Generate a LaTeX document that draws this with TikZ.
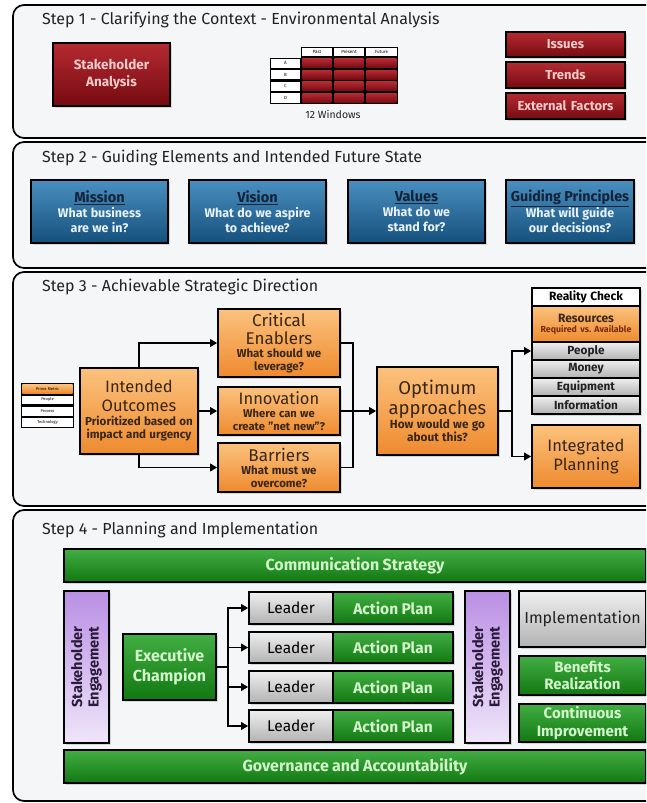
\documentclass[tikz,border=0pt]{standalone}
\usepackage{fontspec}
\setmainfont{Fira Sans}
\usetikzlibrary{shadows,arrows.meta}
\definecolor{panelfill}{HTML}{F5F6F7}
\definecolor{redA}{HTML}{B52A31}
\definecolor{redB}{HTML}{760B11}
\definecolor{redtxt}{HTML}{F4CACA}
\definecolor{blueA}{HTML}{4A8FBF}
\definecolor{blueB}{HTML}{15507C}
\definecolor{bluetitle}{HTML}{13233A}
\definecolor{bluetxt}{HTML}{EAF2FA}
\definecolor{orA}{HTML}{FBC27E}
\definecolor{orB}{HTML}{EE8A2E}
\definecolor{ortxt}{HTML}{3A2614}
\definecolor{resred}{HTML}{7A2A0C}
\definecolor{grA}{HTML}{42AE42}
\definecolor{grB}{HTML}{127812}
\definecolor{grtxt}{HTML}{D2F5CB}
\definecolor{gyA}{HTML}{EFEFEF}
\definecolor{gyB}{HTML}{B2B2B2}
\definecolor{puA}{HTML}{BA8FE4}
\definecolor{puB}{HTML}{EFE5F9}
\definecolor{putxt}{HTML}{2B1B3B}
\definecolor{titletxt}{HTML}{222222}
\newcommand\fs[2]{\fontsize{#1}{#2}\selectfont}
\newcommand\bx[7]{%
  \pgfmathsetmacro\bxw{(#5)-(#3)}%
  \pgfmathsetmacro\bxh{(#6)-(#4)}%
  \pgfmathsetmacro\bxt{(#5)-(#3)-2}%
  \node[#1, align=center, inner sep=1pt, minimum width=\bxw pt, minimum height=\bxh pt, text width=\bxt pt]
    (#2) at ({((#3)+(#5))/2},{((#4)+(#6))/2}) {#7\par};}
\tikzset{
  panel/.style={draw=black, line width=1.7pt, rounded corners=11pt, fill=panelfill},
  steptitle/.style={anchor=west, inner sep=0pt, text=titletxt, font={\fs{16}{18}}},
  box/.style={draw=black, line width=1.6pt, drop shadow={opacity=0.28, shadow xshift=2pt, shadow yshift=-2pt}},
  redbox/.style={box, top color=redA, bottom color=redB, text=redtxt, font={\fs{13}{16}\bfseries}},
  bluebox/.style={box, top color=blueA, bottom color=blueB},
  orbox/.style={box, top color=orA, bottom color=orB, text=ortxt},
  grbox/.style={box, top color=grA, bottom color=grB, text=grtxt},
  gybox/.style={box, top color=gyA, bottom color=gyB, text=black},
  wbox/.style={box, fill=white, text=black},
  pubox/.style={box, top color=puA, bottom color=puB},
  cellw/.style={fill=white, text=black, font={\fs{4.5}{5}}},
  cellr/.style={top color=redA, bottom color=redB},
  cello/.style={top color=orA, bottom color=orB, text=black, font={\fs{4}{5}}},
  cellp/.style={fill=white, text=black, font={\fs{4}{5}}},
  line/.style={draw=black, line width=1.8pt},
  conn/.style={line, -{Triangle[length=7pt,width=7.5pt]}},
  setext/.style={rotate=90, align=center, text=putxt, font={\fs{14.5}{16.5}\bfseries}},
}
\begin{document}
\begin{tikzpicture}[x=1pt,y=-1pt]
\useasboundingbox (0,0) rectangle (646,803);
\clip (0,0) rectangle (646,803);
\fill[white] (0,0) rectangle (646,803);

% ---------------- panels
\draw[panel] (13,5) rectangle (700,138);
\draw[panel] (13,142) rectangle (700,268);
\draw[panel] (13,272) rectangle (700,506);
\draw[panel] (13,510) rectangle (700,801);

\node[steptitle] (t1) at (42,20) {Step 1 - Clarifying the Context - Environmental Analysis};
\node[steptitle] (t2) at (42,158) {Step 2 - Guiding Elements and Intended Future State};
\node[steptitle] (t3) at (42,287) {Step 3 - Achievable Strategic Direction};
\node[steptitle] (t4) at (42,530) {Step 4 - Planning and Implementation};

% ---------------- step 1
\bx{redbox}{sa}{53}{43}{170}{106}{\fs{13.5}{17}Stakeholder\\Analysis}
\bx{redbox}{iss}{506}{32}{625}{57}{Issues}
\bx{redbox}{tre}{506}{62}{625}{88}{Trends}
\bx{redbox}{ext}{506}{93}{625}{119}{External Factors}

% 12 windows table
\fill[black] (301,47) rectangle (398,58);
\fill[black] (270,57.5) rectangle (398,104);
\bx{cellw}{hpast}{302.3}{48.3}{331.7}{56.2}{Past}
\bx{cellw}{hpres}{334.3}{48.3}{363.7}{56.2}{Present}
\bx{cellw}{hfut}{366.3}{48.3}{396.7}{56.2}{Future}
\foreach \r/\ya/\yb/\lab in {1/57.5/69/A, 2/69/80.5/B, 3/80.5/92/C, 4/92/104/D} {
  \bx{cellw}{lab\r}{271.3}{\ya+1.3}{299.7}{\yb-1.3}{\lab}
  \bx{cellr}{ca\r}{302.3}{\ya+1.3}{331.7}{\yb-1.3}{}
  \bx{cellr}{cb\r}{334.3}{\ya+1.3}{363.7}{\yb-1.3}{}
  \bx{cellr}{cc\r}{366.3}{\ya+1.3}{396.7}{\yb-1.3}{}
}
\node[font={\fs{10.5}{12}}, text=titletxt] (win) at (333,114) {12 Windows};

% ---------------- step 2
\bx{bluebox}{mis}{31}{180}{168}{243}{{\fs{14.5}{17}\bfseries\color{bluetitle}\underline{Mission}\par}{\fs{12.5}{15}\bfseries\color{bluetxt}What business\\are we in?\par}}
\bx{bluebox}{vis}{189}{180}{326}{243}{{\fs{14.5}{17}\bfseries\color{bluetitle}\underline{Vision}\par}{\fs{12.5}{15}\bfseries\color{bluetxt}What do we aspire\\to achieve?\par}}
\bx{bluebox}{val}{348}{180}{485}{243}{{\fs{14.5}{17}\bfseries\color{bluetitle}\underline{Values}\par}{\fs{12.5}{15}\bfseries\color{bluetxt}What do we\\stand for?\par}}
\bx{bluebox}{gp}{506}{180}{634}{243}{{\fs{14.3}{17}\bfseries\color{bluetitle}\underline{Guiding Principles}\par}{\fs{12.5}{15}\bfseries\color{bluetxt}What will guide\\our decisions?\par}}

% ---------------- step 3
\fill[black] (21,383) rectangle (74,428);
\bx{cello}{pm1}{22.3}{384.3}{72.7}{393}{Prime Metric}
\bx{cellp}{pm2}{22.3}{395.5}{72.7}{404.3}{People}
\bx{cellp}{pm3}{22.3}{406.8}{72.7}{415.5}{Process}
\bx{cellp}{pm4}{22.3}{418}{72.7}{426.7}{Technology}

\bx{orbox}{io}{80}{368}{198}{454}{{\fs{16.5}{19}Intended\\Outcomes\par}{\fs{11.6}{13.5}\bfseries Prioritized based on\\impact and urgency\par}}
\bx{orbox}{ce}{218}{309}{340}{377}{{\fs{17}{18}Critical\\Enablers\par}{\fs{11.5}{13}\bfseries What should we\\leverage?\par}}
\bx{orbox}{inn}{218}{387}{340}{435}{{\fs{16.5}{18}Innovation\par}{\fs{11.2}{13}\bfseries Where can we\\create "net new"?\par}}
\bx{orbox}{bar}{218}{443}{340}{492}{{\fs{17}{18}Barriers\par}{\fs{11.5}{13}\bfseries What must we\\overcome?\par}}
\bx{orbox}{oa}{377}{367}{498}{455}{{\fs{18.5}{20.5}Optimum\\approaches\par}{\fs{11.8}{13.5}\bfseries How would we go\\about this?\par}}

\bx{wbox}{rc}{532}{288}{640}{306}{\fs{12}{13}\bfseries Reality Check}
\bx{orbox}{res}{532}{306}{640}{342}{{\fs{12}{14}\bfseries Resources\par}{\fs{8.8}{10}\bfseries\color{resred}Required vs.\ Available\par}}
\bx{gybox}{peo}{532}{342}{640}{360}{\fs{11.8}{13}\bfseries\color{titletxt}People}
\bx{gybox}{mon}{532}{360}{640}{378}{\fs{11.8}{13}\bfseries\color{titletxt}Money}
\bx{gybox}{equ}{532}{378}{640}{396}{\fs{11.8}{13}\bfseries\color{titletxt}Equipment}
\bx{gybox}{inf}{532}{396}{640}{414}{\fs{11.8}{13}\bfseries\color{titletxt}Information}
\bx{orbox}{ip}{532}{425}{640}{488}{\fs{16.5}{19.5}Integrated\\Planning}

\coordinate (j1) at (353,411);
\draw[conn] (io.north) |- (ce.west);
\draw[conn] (io.east) -- (inn.west);
\draw[conn] (io.south) |- (bar.west);
\draw[line] (ce.east) -| (j1);
\draw[line] (bar.east) -| (j1);
\draw[conn] (inn.east) -- (oa.west);
\coordinate (j2) at (512,411);
\draw[line] (oa.east) -- (j2);
\draw[conn] (j2) |- (peo.west);
\draw[conn] (j2) |- (ip.west);

% ---------------- step 4
\bx{grbox}{cs}{64}{549}{646}{582}{\fs{16}{18}\bfseries Communication Strategy}
\bx{grbox}{ga}{64}{750}{646}{783}{\fs{16}{18}\bfseries Governance and Accountability}

\bx{pubox}{se1}{64}{591}{109}{743}{}
\node[setext] (se1t) at (se1.center) {Stakeholder\\Engagement};
\bx{pubox}{se2}{465}{591}{510}{743}{}
\node[setext] (se2t) at (se2.center) {Stakeholder\\Engagement};

\bx{grbox}{ec}{123}{634}{216}{700}{\fs{16}{19.5}\bfseries Executive\\Champion}

\foreach \i/\ya/\yb in {1/592/624, 2/632/663, 3/671/703, 4/710/742} {
  \bx{gybox}{l\i}{249}{\ya}{333}{\yb}{\fs{15.5}{17}Leader}
  \bx{grbox}{ap\i}{333}{\ya}{453}{\yb}{\fs{15.5}{17}\bfseries Action Plan}
}
\coordinate (j3) at (228,667);
\draw[line] (ec.east) -- (j3);
\foreach \i in {1,2,3,4} {
  \draw[conn] (j3) |- (l\i.west);
}

\bx{gybox}{imp}{519}{591}{646}{647}{\fs{16}{18}\color{titletxt}Implementation}
\bx{grbox}{ben}{519}{656}{646}{695}{\fs{15}{17.5}\bfseries Benefits\\Realization}
\bx{grbox}{ci}{519}{704}{646}{742}{\fs{15}{17.5}\bfseries Continuous\\Improvement}

\end{tikzpicture}
\end{document}
